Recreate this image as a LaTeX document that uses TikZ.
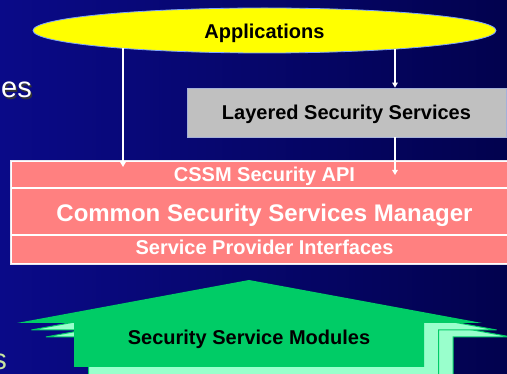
\documentclass[tikz,border=0pt]{standalone}
\usepackage{fontspec}
\setmainfont{Liberation Sans}
\usetikzlibrary{shapes.geometric,arrows.meta}

\definecolor{bgleft}{HTML}{0A0A88}
\definecolor{bgright}{HTML}{02024E}
\definecolor{appyellow}{HTML}{FFFF00}
\definecolor{apprim}{HTML}{7FA6FF}
\definecolor{layergray}{HTML}{C0C0C0}
\definecolor{layerrim}{HTML}{A4B0D8}
\definecolor{cssmpink}{HTML}{FF8080}
\definecolor{cssmrim}{HTML}{E4E4EE}
\definecolor{modgreen}{HTML}{00CC66}
\definecolor{modlight}{HTML}{99FFCC}
\definecolor{faintgreen}{HTML}{C8E6A0}

\tikzset{
  lbl/.style={font=\bfseries\fontsize{20}{24}\selectfont},
  row/.style={draw=white, line width=1.2pt, fill=cssmpink, minimum width=507pt,
    inner sep=0pt, text=white, text depth=0pt, lbl},
  link/.style={draw=white, line width=1.6pt, -{Triangle[length=5pt,width=5.5pt]}},
  modback/.style={fill=modlight, draw=modgreen, line width=1pt},
}

\begin{document}
\begin{tikzpicture}[x=1pt, y=-1pt]
\useasboundingbox (0,0) rectangle (507,374);
\clip (0,0) rectangle (507,374);

% backdrop
\shade[left color=bgleft, right color=bgright] (0,0) rectangle (507,374);

% fragments of slide text at the left edge
\node[anchor=base east, inner sep=0pt, text=black!80, font=\fontsize{29}{34}\selectfont] at (33.5,99.5) {es};
\node[anchor=base east, inner sep=0pt, text=white, font=\fontsize{29}{34}\selectfont] (frag) at (32,98) {es};
\node[anchor=base east, inner sep=0pt, text=faintgreen, font=\fontsize{29}{34}\selectfont] (fragb) at (7,370) {s};

% stacked module arrows, back to front
\begin{scope}[shift={(29,14)}]
  \filldraw[modback] (249,280) -- (482,323) -- (424,323) -- (424,400) -- (74,400) -- (74,323) -- (17,323) -- cycle;
\end{scope}
\begin{scope}[shift={(14.5,7)}]
  \filldraw[modback] (249,280) -- (482,323) -- (424,323) -- (424,400) -- (74,400) -- (74,323) -- (17,323) -- cycle;
\end{scope}
\fill[modgreen] (249,280) -- (482,323) -- (424,323) -- (424,367) -- (74,367) -- (74,323) -- (17,323) -- cycle;
\node[lbl, anchor=base, inner sep=0pt] (ssm) at (249,345) {Security Service Modules};

% CSSM layers
\node[row, minimum height=27pt, text height=14.4pt] (api) at (264.5,174.5) {CSSM Security API};
\node[row, minimum height=47pt, text height=21pt, font=\bfseries\fontsize{24}{28}\selectfont] (mgr) at (264.5,211.5) {Common Security Services Manager};
\node[row, minimum height=29pt, text height=11pt] (spi) at (264.5,249.5) {Service Provider Interfaces};
\draw[cssmrim, line width=0.8pt] (api.north west) rectangle (spi.south east);

% layered services
\node[lbl, draw=layerrim, line width=0.8pt, fill=layergray, minimum width=319pt, minimum height=49pt,
      inner sep=0pt, text height=15pt, text depth=0pt] (lss) at (346.5,112.5) {Layered Security Services};

% applications
\node[lbl, ellipse, draw=apprim, line width=0.8pt, fill=appyellow, minimum width=463pt, minimum height=45pt,
      inner sep=0pt, text height=17pt, text depth=0pt] (apps) at (264.5,30.5) {Applications};

% calls from the applications
\coordinate (lend) at (123,167);
\coordinate (rend) at (395,175);
\draw[link] (apps.187.17 -| lend) -- (lend);
\draw[link] (apps.-8.1 -| rend) -- (lss.north -| rend);
\draw[link] (lss.south -| rend) -- (rend);
\end{tikzpicture}
\end{document}
